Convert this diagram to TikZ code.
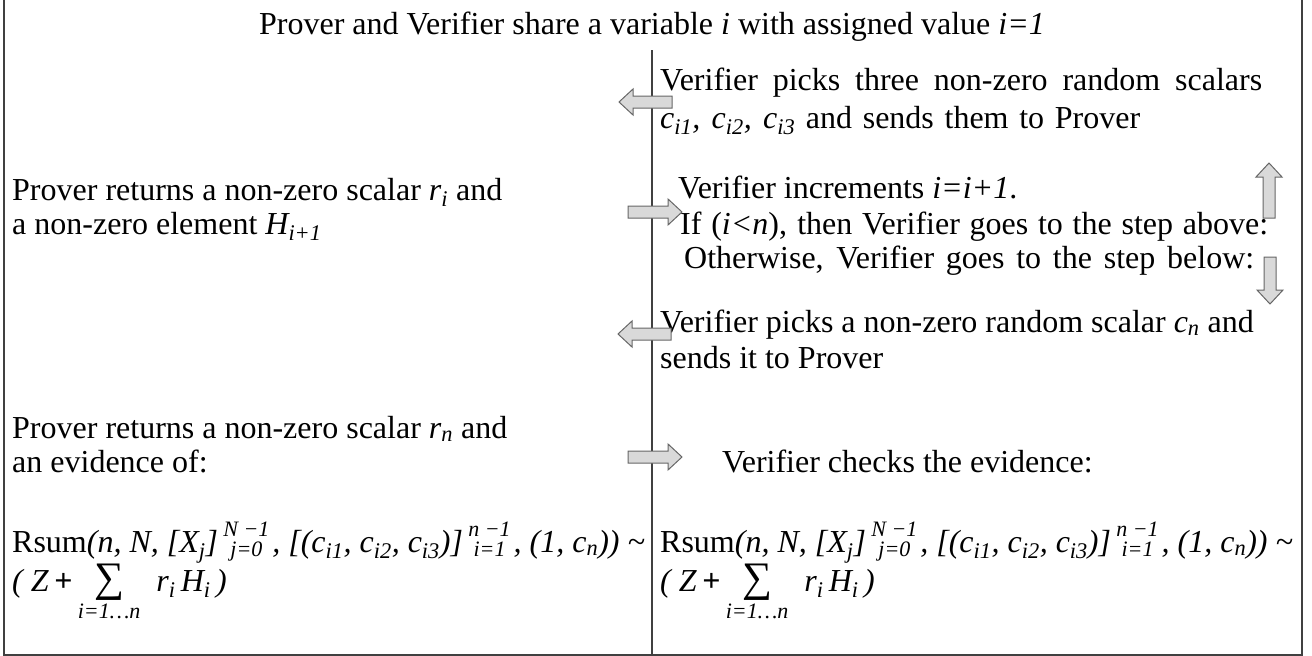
\documentclass[tikz,border=0pt]{standalone}
\usepackage{fontspec}
\usepackage{amsmath}
\setmainfont{Liberation Serif}
\newlength\stkw
\newlength\stkv
\newcommand\stk[2]{\,{\fontsize{22}{22}\selectfont\itshape\settowidth\stkw{#1}\settowidth\stkv{#2}\ifdim\stkv>\stkw\setlength\stkw{\stkv}\fi\makebox[\stkw]{\raisebox{15.5pt}{\makebox[0pt]{#1}}\raisebox{-4pt}{\makebox[0pt]{#2}}}}\hspace{3pt}}
\newcommand\sbs[1]{\textsubscript{#1}}
\newcommand\rsumline{Rsum\textit{(n, N, [X\sbs{j}]}\stk{N −1}{j=0}\textit{, [(c\sbs{i1}, c\sbs{i2}, c\sbs{i3})]}\stk{n −1}{i=1}\textit{, (1, c\sbs{n})) \textasciitilde}}
\newcommand\sumline{\textit{( Z}\,\textbf{+}\,$\mathop{\hbox{\fontsize{42}{42}\selectfont ∑}}\limits_{\hbox{\fontsize{22}{22}\selectfont\itshape i=1…n}}$\hspace{16pt}\textit{r\sbs{i}\,H\sbs{i}\,)}}
\tikzset{
  txt/.style={anchor=base west, inner sep=0pt, font=\fontsize{32}{38}\selectfont},
  frameline/.style={draw=black!75, line width=1.3pt},
  arrowline/.style={draw=black!60, fill=black!15, line width=1pt, line join=miter},
  blockarr/.pic={\draw[arrowline] (0,-6) -- ({#1-14},-6) -- ({#1-14},-13) -- (#1,0) -- ({#1-14},13) -- ({#1-14},6) -- (0,6) -- cycle;}
}
\begin{document}
\begin{tikzpicture}[x=1pt,y=-1pt]
\useasboundingbox (0,0) rectangle (1312,656);
% frame
\coordinate (ftl) at (4,0);
\coordinate (fbl) at (4,655);
\coordinate (fbr) at (1302,655);
\coordinate (ftr) at (1302,0);
\coordinate (dtop) at (652,50);
\coordinate (dbot) at (652,655);
\draw[frameline] (ftl) -- (fbl) -- (fbr) -- (ftr);
\draw[frameline] (dtop) -- (dbot);
% title
\node[txt, anchor=base] (title) at (652,34) {Prover and Verifier share a variable \textit{i} with assigned value \textit{i=1}};
% verifier column
\node[txt] (v1) at (660,90) {\makebox[602pt][s]{Verifier picks three non-zero random scalars}};
\node[txt] (v2) at (660,128) {\makebox[480pt][s]{\textit{c\sbs{i1}, c\sbs{i2}, c\sbs{i3}} and sends them to Prover}};
\node[txt] (v3) at (678,198) {Verifier increments \textit{i=i+1}.};
\node[txt] (v4) at (680,234) {\makebox[588pt][s]{If (\textit{i<n}), then Verifier goes to the step above:}};
\node[txt] (v5) at (684,268) {\makebox[570pt][s]{Otherwise, Verifier goes to the step below:}};
\node[txt] (v6) at (660,332) {Verifier picks a non-zero random scalar \textit{c\sbs{n}} and};
\node[txt] (v7) at (660,368) {sends it to Prover};
\node[txt] (v8) at (722,472) {Verifier checks the evidence:};
\node[txt] (vr1) at (660,552) {\rsumline};
\node[txt] (vr2) at (660,591) {\sumline};
% prover column
\node[txt] (p1) at (12,200) {Prover returns a non-zero scalar \textit{r\sbs{i}} and};
\node[txt] (p2) at (12,234) {a non-zero element \textit{H\sbs{i+1}}};
\node[txt] (p3) at (12,438) {Prover returns a non-zero scalar \textit{r\sbs{n}} and};
\node[txt] (p4) at (12,472) {an evidence of:};
\node[txt] (pr1) at (12,552) {\rsumline};
\node[txt] (pr2) at (12,591) {\sumline};
% block arrows
\pic[rotate=180] at (672,102) {blockarr=53};
\pic at (628,212) {blockarr=54};
\pic[rotate=180] at (671,334) {blockarr=53};
\pic at (628,457) {blockarr=54};
\pic[rotate=90] at (1269,218) {blockarr=55};
\pic[rotate=-90] at (1270,257) {blockarr=47};
\end{tikzpicture}
\end{document}
